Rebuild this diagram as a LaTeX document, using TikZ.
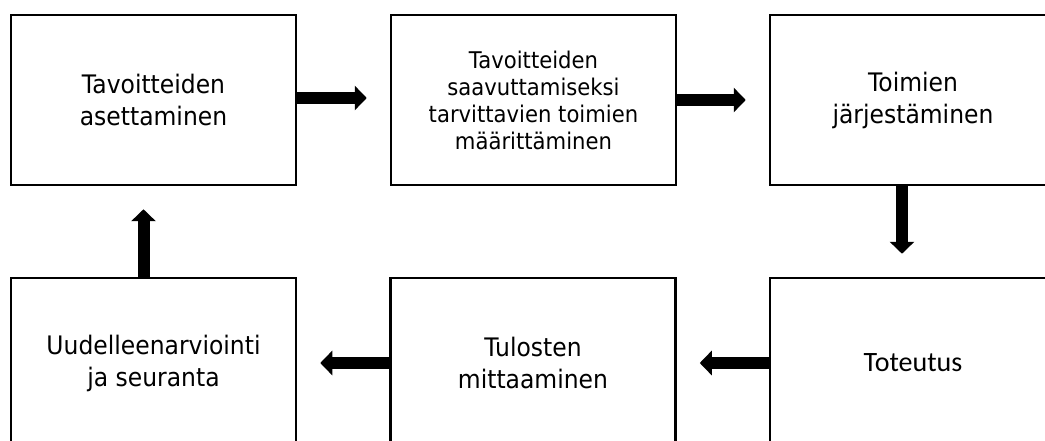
\documentclass[tikz,border=0pt]{standalone}
\usepackage{fontspec}
\setmainfont[FakeStretch=0.92]{DejaVu Sans}
\newfontfamily\calfont{Carlito}
\usetikzlibrary{arrows.meta}
\begin{document}
\begin{tikzpicture}[x=1pt,y=-1pt,
  box/.style={draw=black,line width=2.5pt,fill=white,minimum width=285pt,minimum height=170pt,
    inner sep=0pt,align=center,font=\fontsize{25.5}{32}\selectfont},
  smallbox/.style={box,font=\fontsize{23}{27}\selectfont},
  blockarrow/.style={line width=12pt,-{Triangle[width=24pt,length=12pt]},shorten >=23pt}]
\clip (0,0) rectangle (1045,441);
\fill[white] (0,0) rectangle (1045,441);
\node[box] (b1) at (153.5,100) {Tavoitteiden\\asettaminen};
\node[smallbox] (b2) at (533.5,100) {Tavoitteiden\\saavuttamiseksi\\tarvittavien toimien\\määrittäminen};
\node[box,minimum width=286pt] (b3) at (913,100) {Toimien\\järjestäminen};
\node[box,minimum width=286pt,font=\calfont\fontsize{28}{32}\selectfont] (b6) at (913,363) {Toteutus};
\node[box] (b5) at (533,363) {Tulosten\\mittaaminen};
\node[box] (b4) at (153.5,363) {Uudelleenarviointi\\ja seuranta};
\draw[blockarrow] ([yshift=2pt]b1.east) -- ([yshift=2pt]b2.west);
\draw[blockarrow] (b2.east) -- (b3.west);
\draw[blockarrow] ([xshift=-11pt]b3.south) -- ([xshift=-11pt]b6.north);
\draw[blockarrow] (b6.west) -- (b5.east);
\draw[blockarrow] (b5.west) -- (b4.east);
\draw[blockarrow] ([xshift=-10pt]b4.north) -- ([xshift=-10pt]b1.south);
\end{tikzpicture}
\end{document}
